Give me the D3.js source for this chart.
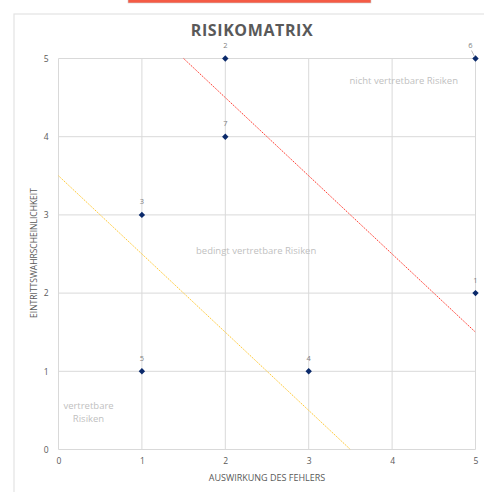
<!DOCTYPE html>
<html><head><meta charset="utf-8">
<script src="https://cdn.jsdelivr.net/npm/d3@7"></script>
<style>body{margin:0;background:#fff;}svg{display:block;font-family:"Open Sans",sans-serif;}</style>
</head><body><svg id="c" width="484" height="492"></svg>
<script>
const pointIds = ["1","2","3","4","5","6","7"];
const impact = [5,2,1,3,1,5,2];
const likelihood = [2,5,3,1,1,5,4];
const xTicks = [0,1,2,3,4,5];
const yTicks = [0,1,2,3,4,5];
const redLine = [[1.5,5],[5,1.5]];
const yellowLine = [[0,3.5],[3.5,0]];
const zoneLabels = [
  {lines:["nicht vertretbare Risiken"], x:4.14, y:4.67},
  {lines:["bedingt vertretbare Risiken"], x:2.37, y:2.5},
  {lines:["vertretbare","Risiken"], x:0.36, y:0.52}
];
const title = "RISIKOMATRIX";
const xTitle = "AUSWIRKUNG DES FEHLERS";
const yTitle = "EINTRITTSWAHRSCHEINLICHKEIT";

const svg = d3.select("#c");
svg.append("rect").attr("x",128).attr("y",-1).attr("width",243).attr("height",4)
  .attr("fill","#f45b45").attr("stroke","#d0d0d0").attr("stroke-width",0.6);
svg.append("rect").attr("x",14).attr("y",14).attr("width",490).attr("height",500)
  .attr("fill","#fff").attr("stroke","#e3e3e3").attr("stroke-width",1.2);

const x = d3.scaleLinear().domain([0,5]).range([58.5,475.5]);
const y = d3.scaleLinear().domain([0,5]).range([449.5,58.5]);

const g = svg.append("g");
g.selectAll(".vg").data(xTicks).join("line")
  .attr("x1",d=>x(d)).attr("x2",d=>x(d)).attr("y1",y(0)).attr("y2",y(5))
  .attr("stroke","#d9d9d9").attr("stroke-width",1);
g.selectAll(".hg").data(yTicks).join("line")
  .attr("y1",d=>y(d)).attr("y2",d=>y(d)).attr("x1",x(0)).attr("x2",x(5))
  .attr("stroke","#d9d9d9").attr("stroke-width",1);

const xAxis = d3.axisBottom(x).tickValues(xTicks).tickSize(0).tickPadding(8).tickFormat(d3.format("d"));
const yAxis = d3.axisLeft(y).tickValues(yTicks).tickSize(0).tickPadding(10).tickFormat(d3.format("d"));
const xa = svg.append("g").attr("transform",`translate(0,${y(0)})`).call(xAxis);
const ya = svg.append("g").attr("transform",`translate(${x(0)},0)`).call(yAxis);
[xa,ya].forEach(a=>{a.select(".domain").remove();
  a.selectAll("text").attr("fill","#595959").style("font-size","8.5px").style("font-family","'Open Sans',sans-serif");});

const line = d3.line().x(d=>x(d[0])).y(d=>y(d[1]));
svg.append("path").attr("d",line(redLine)).attr("fill","none")
  .attr("stroke","#ff3b2f").attr("stroke-width",1).attr("stroke-dasharray","1.5,1");
svg.append("path").attr("d",line(yellowLine)).attr("fill","none")
  .attr("stroke","#ffc933").attr("stroke-width",1).attr("stroke-dasharray","1.5,1");

zoneLabels.forEach(z=>{
  const t = svg.append("text").attr("x",x(z.x)).attr("y",y(z.y)).attr("text-anchor","middle")
    .attr("fill","#bfbfbf").style("font-size","9.5px");
  z.lines.forEach((l,i)=>t.append("tspan").attr("x",x(z.x)).attr("dy",i?13:0).text(l));
});

const pts = pointIds.map((id,i)=>({id, x:impact[i], y:likelihood[i]}));
const dia = "M0,-3.2L3.2,0L0,3.2L-3.2,0Z";
svg.selectAll(".pt").data(pts).join("path")
  .attr("d",dia)
  .attr("transform",d=>`translate(${x(d.x)},${y(d.y)})`)
  .attr("fill","#0b2a6b");
svg.selectAll(".pl").data(pts).join("text")
  .attr("x",d=>x(d.x) + (d.id==="6"?-5:0))
  .attr("y",d=>y(d.y) - 10.5)
  .attr("text-anchor","middle").attr("fill","#7f7f7f").style("font-size","7.5px")
  .text(d=>d.id);
const p6 = pts.find(p=>p.id==="6");
svg.append("line").attr("x1",x(p6.x)-4).attr("y1",y(p6.y)-8).attr("x2",x(p6.x)-1).attr("y2",y(p6.y)-2)
  .attr("stroke","#a6a6a6").attr("stroke-width",0.8);

svg.append("text").attr("x",252).attr("y",36).attr("text-anchor","middle")
  .attr("fill","#595959").style("font-size","16px").style("font-weight","bold").style("letter-spacing","0.6px")
  .text(title);
svg.append("text").attr("x",267).attr("y",481).attr("text-anchor","middle")
  .attr("fill","#595959").style("font-size","9px").text(xTitle);
svg.append("text").attr("transform",`translate(37,${253}) rotate(-90)`).attr("text-anchor","middle")
  .attr("fill","#595959").style("font-size","8.5px").text(yTitle);
</script></body></html>
